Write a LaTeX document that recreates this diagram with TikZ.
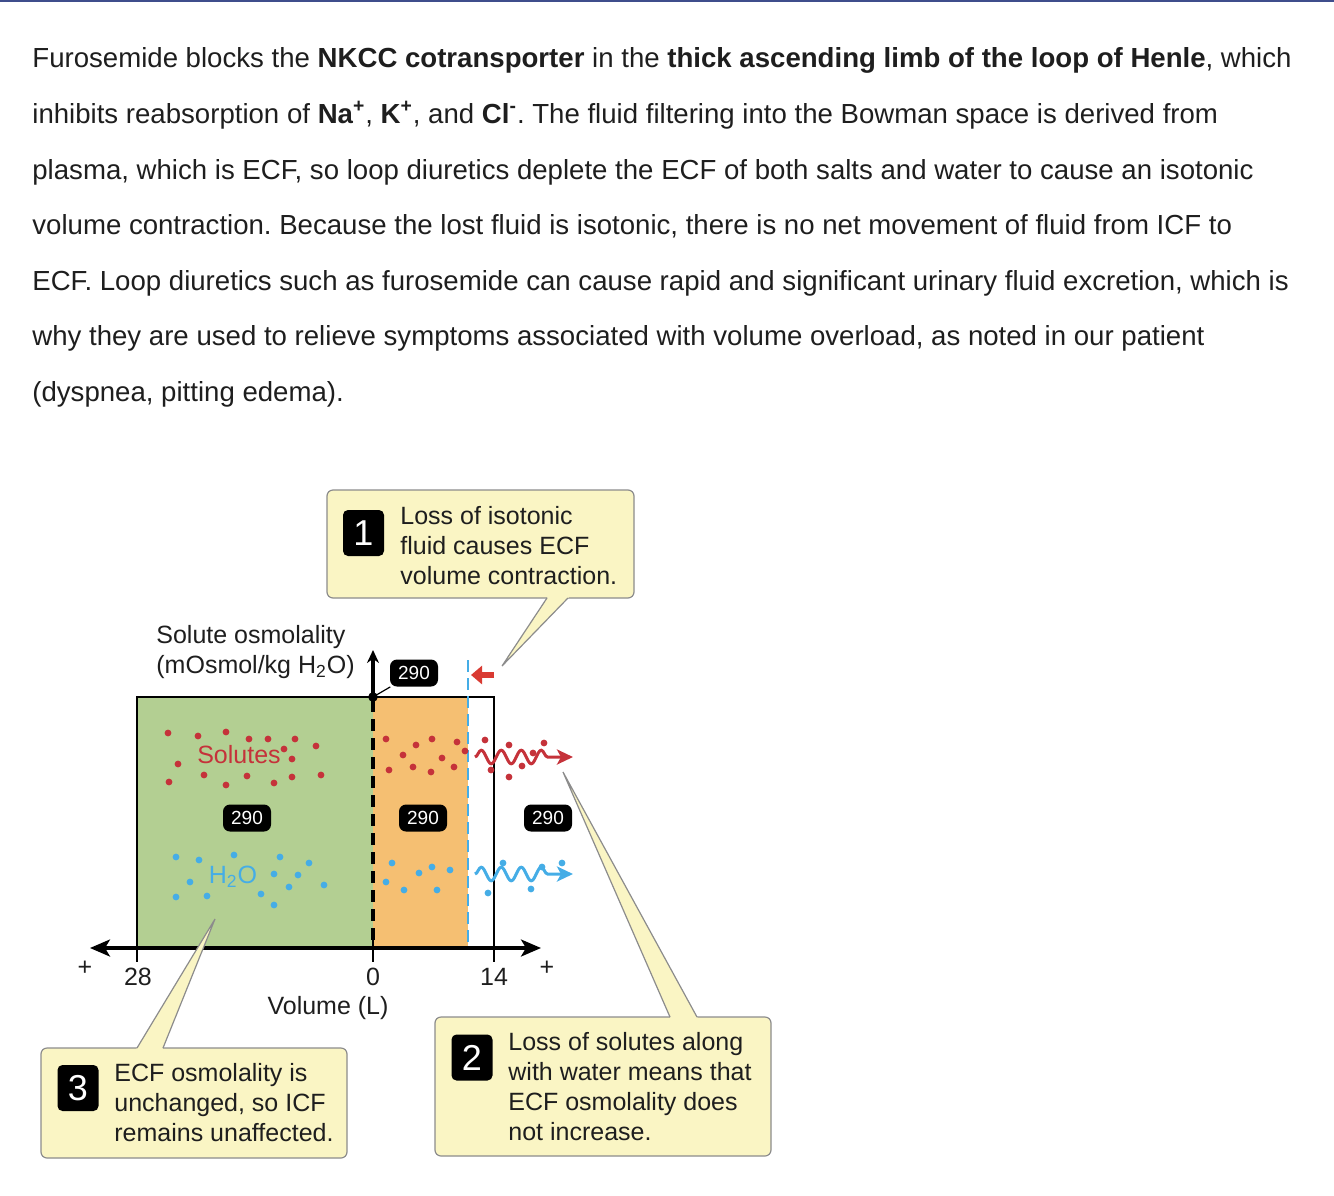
\documentclass[tikz,border=0pt]{standalone}
\usepackage{fontspec}
\setmainfont{Liberation Sans}
\usepackage{xcolor}
\usetikzlibrary{positioning,arrows.meta,calc,decorations.pathmorphing}
\frenchspacing

\definecolor{ink}{HTML}{1E1E1E}
\definecolor{rulebl}{HTML}{3F4D8C}
\definecolor{ecfgreen}{HTML}{B3CF92}
\definecolor{icforange}{HTML}{F5BF72}
\definecolor{solred}{HTML}{C5323A}
\definecolor{h2oblue}{HTML}{45ADE6}
\definecolor{arrred}{HTML}{D93A32}
\definecolor{callfill}{HTML}{FAF5C4}
\definecolor{callline}{HTML}{8C8C8C}

\begin{document}
\begin{tikzpicture}[x=0.5pt, y=-0.5pt,
    para/.style={anchor=base west, inner sep=0pt, text=ink, font=\fontsize{13.8pt}{15pt}\selectfont},
    lbl/.style={inner sep=0pt, text=ink, font=\fontsize{12.5pt}{15pt}\selectfont},
    callbox/.style={draw=callline, fill=callfill, rounded corners=3pt, line width=0.6pt, inner sep=0pt},
    tail/.style={draw=callline, line width=0.6pt, line join=miter},
    badge/.style={fill=black, rounded corners=2.5pt, text=white, inner sep=0pt, minimum width=20.5pt, minimum height=23pt, font=\fontsize{18pt}{18pt}\selectfont},
    calltext/.style={anchor=west, align=left, inner sep=0pt, text=ink, font=\fontsize{12.5pt}{15pt}\selectfont},
    osm/.style={fill=black, rounded corners=3.5pt, text=white, inner sep=0pt, minimum width=24pt, minimum height=13.5pt, font=\fontsize{9.5pt}{9.5pt}\selectfont},
    axis/.style={line width=1.6pt, {Stealth[length=10pt,width=8.5pt,inset=2.5pt]}-{Stealth[length=10pt,width=8.5pt,inset=2.5pt]}},
    tick/.style={line width=1.2pt},
    wave/.style={line width=1.5pt, decorate, decoration={snake, amplitude=3.4pt, segment length=10pt, post length=12pt}, -{Stealth[length=8pt,width=7.5pt,inset=2pt]}},
]
\useasboundingbox (0,0) rectangle (1334,1195);
\draw[rulebl, line width=1pt] (0,1) -- (1334,1);

% paragraph
\node[para] (l1) at (32,67) {Furosemide blocks the \textbf{NKCC cotransporter} in the \textbf{thick ascending limb of the loop of Henle}, which};
\node[para] (l2) at (32,123) {inhibits reabsorption of \textbf{Na\textsuperscript{+}}, \textbf{K\textsuperscript{+}}, and \textbf{Cl\textsuperscript{-}}. The fluid filtering into the Bowman space is derived from};
\node[para] (l3) at (32,179) {plasma, which is ECF, so loop diuretics deplete the ECF of both salts and water to cause an isotonic};
\node[para] (l4) at (32,234) {volume contraction. Because the lost fluid is isotonic, there is no net movement of fluid from ICF to};
\node[para] (l5) at (32,290) {ECF. Loop diuretics such as furosemide can cause rapid and significant urinary fluid excretion, which is};
\node[para] (l6) at (32,345) {why they are used to relieve symptoms associated with volume overload, as noted in our patient};
\node[para] (l7) at (32,401) {(dyspnea, pitting edema).};

% compartments
\fill[ecfgreen] (137,697) rectangle (373,948);
\fill[icforange] (373,697) rectangle (468,948);
\draw[line width=1pt] (137,948) -- (137,697) -- (494,697) -- (494,948);
\draw[line width=1.6pt, dash pattern=on 6pt off 3.5pt] (373,700) -- (373,948);
\draw[h2oblue, line width=1.3pt, dash pattern=on 6pt off 3pt] (468,660) -- (468,948);

% dots
\foreach \p in {(168,733),(198,736),(226,732),(249,739),(268,739),(295,739),(316,746),(284,749),(292,759),(178,764),(204,775),(247,776),(292,777),(321,775),(169,782),(226,785),(274,783),
                (386,739),(416,745),(432,739),(457,742),(403,755),(442,758),(465,751),(389,770),(413,767),(431,772),(454,767),
                (485,740),(509,745),(544,743),(533,753),(522,766),(491,770),(509,777)}
  \fill[solred] \p circle (1.7pt);
\foreach \p in {(176,857),(199,860),(234,855),(280,857),(309,863),(190,882),(274,874),(298,875),(324,885),(289,887),(176,897),(207,896),(261,894),(274,905),
                (392,863),(432,867),(450,870),(419,873),(386,882),(404,890),(437,890),
                (503,863),(542,867),(562,863),(488,893),(531,889)}
  \fill[h2oblue] \p circle (1.7pt);

\node[lbl, text=solred] (solutes) at (239,755) {Solutes};
\node[lbl, text=h2oblue] (water) at (233,877) {H\textsubscript{2}O};
\node[osm] (osmecf) at (247,818) {290};
\node[osm] (osmicf) at (423,818) {290};
\node[osm] (osmout) at (548,818) {290};

% fluid leaving
\coordinate (wr1) at (475,757);
\coordinate (wr2) at (573,757);
\coordinate (wb1) at (475,874);
\coordinate (wb2) at (573,874);
\draw[wave, solred] (wr1) -- (wr2);
\draw[wave, h2oblue] (wb1) -- (wb2);

% axes
\coordinate (xl) at (90,948);
\coordinate (xr) at (541,948);
\draw[axis] (xl) -- (xr);
\draw[tick] (137,948) -- (137,962);
\draw[tick] (373,938) -- (373,962);
\draw[tick] (494,948) -- (494,962);
\fill (373,697) circle (2.4pt) coordinate (origin);
\coordinate (ytop) at (373,650);
\draw[line width=1.6pt, -{Stealth[length=6.5pt,width=6pt]}] (origin) -- (ytop);
\node[osm] (osmtop) at (414,673) {290};
\draw[line width=0.6pt] (origin) -- (osmtop);
\coordinate (ra1) at (494,675);
\coordinate (ra2) at (471,675);
\draw[arrred, line width=2.6pt, -{Triangle[length=5.5pt,width=9pt]}] (ra1) -- (ra2);

\node[lbl] (plus1) at (85,968) {+};
\node[lbl] (v28) at (138,977) {28};
\node[lbl] (v0) at (373,977) {0};
\node[lbl] (v14) at (494,977) {14};
\node[lbl] (plus2) at (547,968) {+};
\node[lbl] (vol) at (328,1008) {Volume (L)};
\node[lbl, anchor=west, align=left] (yname) at (156,652) {Solute osmolality\\(mOsmol/kg H\textsubscript{2}O)};

% callouts
\node[callbox, minimum width=153.5pt, minimum height=54pt] (box1) at (480.5,544) {};
\node[badge] (n1) at (363.5,533) {1};
\node[calltext] (t1) at (400,546) {Loss of isotonic\\fluid causes ECF\\volume contraction.};
\coordinate (p1a) at (547,598);
\coordinate (p1b) at (568,598);
\coordinate (tip1) at (502,666);
\fill[callfill] ($(tip1)!1.08!(p1a)$) -- (tip1) -- ($(tip1)!1.08!(p1b)$) -- cycle;
\draw[tail] (p1a) -- (tip1) -- (p1b);

\node[callbox, minimum width=168pt, minimum height=69.5pt] (box2) at (603,1086.5) {};
\node[badge] (n2) at (472,1057.5) {2};
\node[calltext] (t2) at (508,1087) {Loss of solutes along\\with water means that\\ECF osmolality does\\not increase.};
\coordinate (p2a) at (670,1017);
\coordinate (p2b) at (697,1017);
\coordinate (tip2) at (563,772);
\fill[callfill] ($(tip2)!1.04!(p2a)$) -- (tip2) -- ($(tip2)!1.04!(p2b)$) -- cycle;
\draw[tail] (p2a) -- (tip2) -- (p2b);

\node[callbox, minimum width=153pt, minimum height=55pt] (box3) at (194,1103) {};
\node[badge] (n3) at (78,1088) {3};
\node[calltext] (t3) at (114,1103) {ECF osmolality is\\unchanged, so ICF\\remains unaffected.};
\coordinate (p3a) at (137,1048);
\coordinate (p3b) at (163,1048);
\coordinate (tip3) at (215,919);
\fill[callfill] ($(tip3)!1.06!(p3a)$) -- (tip3) -- ($(tip3)!1.06!(p3b)$) -- cycle;
\draw[tail] (p3a) -- (tip3) -- (p3b);
\end{tikzpicture}
\end{document}
